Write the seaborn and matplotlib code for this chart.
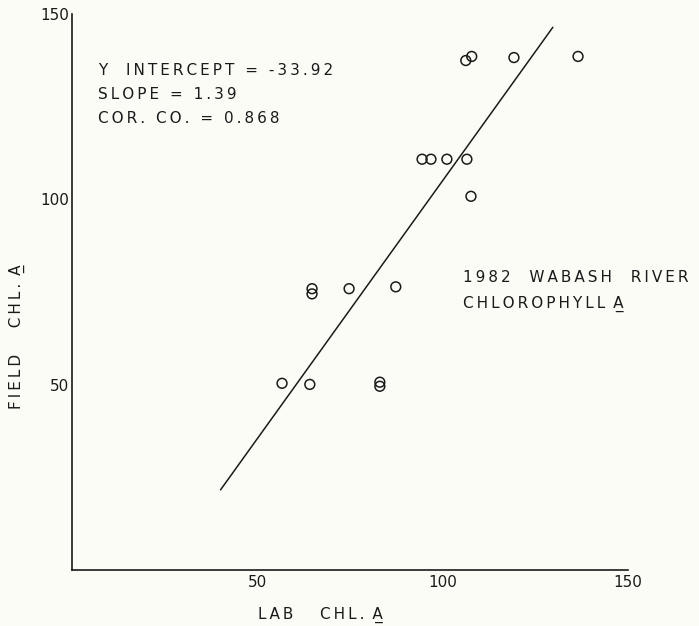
import numpy as np
import pandas as pd
import matplotlib
matplotlib.use('Agg')
import matplotlib.pyplot as plt
import seaborn as sns

# lab vs field chlorophyll a
lab_chl = [56.6, 64.1, 83.0, 83.0, 64.7, 64.7, 74.7, 87.3,
           94.4, 96.8, 101.1, 106.5, 107.6, 106.2, 107.8, 119.2, 136.5]
field_chl = [50.4, 50.1, 50.7, 49.6, 75.9, 74.5, 75.9, 76.4,
             110.8, 110.8, 110.8, 110.8, 100.8, 137.4, 138.5, 138.2, 138.5]

intercept = -33.92
slope = 1.39
cor_co = 0.868
fit_x = [40, 129.7]

tick_vals = [25, 50, 75, 100, 125, 150]
tick_labels = ['', '50', '', '100', '', '150']

sns.set_style('white')
plt.rcParams['font.family'] = ['DejaVu Sans']
bg = '#fcfcf7'
ink = '#1a1a1a'


def spaced(s, underline_a=False):
    # wide letter spacing like the lettering guide on the original
    out = '\u2009'.join(s)
    if underline_a:
        out += '\u2009 A\u0332'
    return out


data = pd.DataFrame({'lab': lab_chl, 'field': field_chl})
fit = pd.DataFrame({'x': fit_x, 'y': [intercept + slope * v for v in fit_x]})

fig = plt.figure(figsize=(6.99, 6.26), dpi=100, facecolor=bg)
ax = fig.add_axes([0.1035, 0.089, 0.795, 0.889])
ax.set_facecolor(bg)

sns.lineplot(data=fit, x='x', y='y', color=ink, linewidth=1.1, ax=ax)
sns.scatterplot(data=data, x='lab', y='field', marker='o', s=50,
                facecolor='none', edgecolor=ink, linewidth=1.1, ax=ax)

ax.set_xlim(0, 150)
ax.set_ylim(0, 150)
ax.set_xticks(tick_vals)
ax.set_xticklabels(tick_labels)
ax.set_yticks(tick_vals)
ax.set_yticklabels(tick_labels)
ax.tick_params(direction='in', length=4, width=1, colors=ink,
               labelsize=11, pad=3.5)
ax.tick_params(axis='y', pad=2)
for side in ['top', 'right']:
    ax.spines[side].set_visible(False)
for side in ['left', 'bottom']:
    ax.spines[side].set_color(ink)
    ax.spines[side].set_linewidth(1.2)

ax.set_xlabel(spaced('LAB   CHL.', True), fontsize=11, color=ink)
ax.xaxis.set_label_coords(0.447, -0.066)
ax.set_ylabel(spaced('FIELD   CHL.', True), fontsize=11, color=ink)
ax.yaxis.set_label_coords(-0.085, 0.419)

txt = dict(fontsize=11, color=ink, va='center', ha='left')
ax.text(6.9, 134.7, spaced('Y  INTERCEPT = %.2f' % intercept), **txt)
ax.text(6.9, 128.2, spaced('SLOPE = %.2f' % slope), **txt)
ax.text(6.9, 121.7, spaced('COR. CO. = %.3f' % cor_co), **txt)

ax.text(105.5, 78.9, spaced('1982  WABASH  RIVER'), **txt)
ax.text(105.5, 71.8, spaced('CHLOROPHYLL', True), **txt)

fig.savefig('out.png', dpi=100, facecolor=bg)
